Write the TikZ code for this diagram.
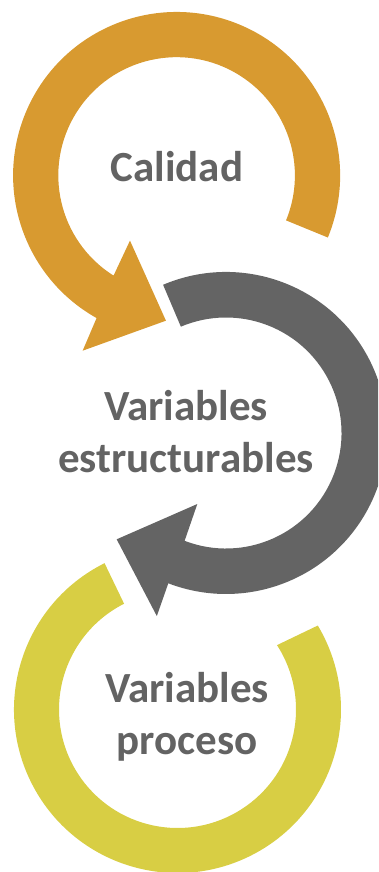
\documentclass[tikz,border=0pt]{standalone}
\usepackage{fontspec}
\setmainfont{Carlito}
\usetikzlibrary{%
    calc,
    positioning
}
\definecolor{calidadorange}{RGB}{216,154,48}
\definecolor{estructgray}{RGB}{100,100,100}
\definecolor{procesoyellow}{RGB}{216,206,68}
\definecolor{labelgray}{RGB}{99,99,99}
\tikzset{ringlabel/.style = {align=center, anchor=base, inner sep=0pt,
                             text=labelgray, font=\bfseries\fontsize{43}{52}\selectfont}}

\begin{document}
\begin{tikzpicture}[x=1pt, y=1pt]
    \useasboundingbox (0,0) rectangle (378,872);
    \clip (0,0) rectangle (378,872);

    \coordinate (cal) at (176.6,696.5);
    \coordinate (est) at (226,439);
    \coordinate (pro) at (177.5,162.5);

    % ring of the process variables, open at the top
    \fill[procesoyellow, shift={(pro)}]
        (116.5:163.5) arc[start angle=116.5, end angle=390.9, radius=163.5]
        -- (32.9:118.5) arc[start angle=32.9, end angle=-243.2, radius=118.5]
        -- cycle;

    % structural variables, turning clockwise
    \fill[estructgray, shift={(est)}]
        (113:161) arc[start angle=113, end angle=-111, radius=161]
        -- (-110.7:195.7) -- (-135.8:152.5) -- (-112:76.6)
        -- (-111:115.5) arc[start angle=-111, end angle=113, radius=115.5]
        -- cycle;

    % quality, turning counterclockwise
    \fill[calidadorange, shift={(cal)}]
        (-22.3:163.5) arc[start angle=-22.3, end angle=240.7, radius=163.5]
        -- (241.8:198.8) -- (265.8:145.6) -- (234.4:80.1)
        -- (237.8:118.3) arc[start angle=237.8, end angle=-22.3, radius=118.3]
        -- cycle;

    % base of a two-line label is its last line
    \node (calidad) [ringlabel] at (177,690) {Calidad};
    \node (estruct) [ringlabel] at (186,399) {Variables\\estructurables};
    \node (proceso) [ringlabel] at (187,117) {Variables\\proceso};
\end{tikzpicture}
\end{document}
